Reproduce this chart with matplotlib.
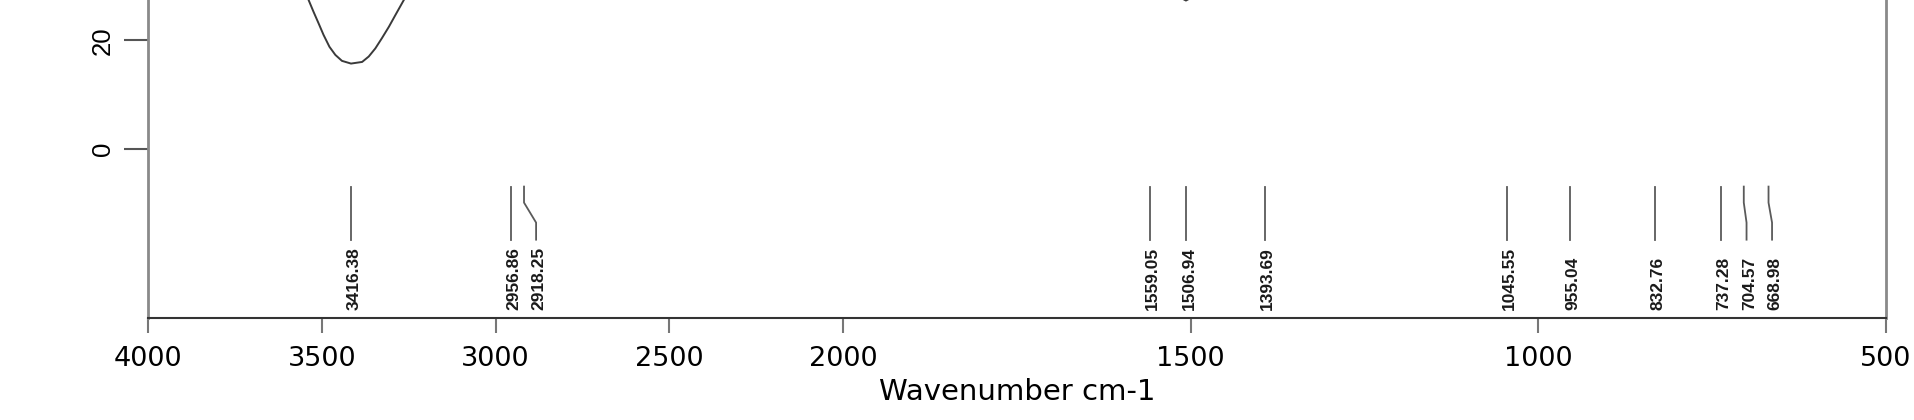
import numpy as np
import matplotlib.pyplot as plt
from matplotlib.transforms import offset_copy

# spectrum, only the part that shows inside the crop (the rest lies above it)
wavenumber = [3550, 3538, 3524, 3509, 3495, 3478, 3461, 3442, 3416, 3384, 3365,
              3346, 3327, 3307, 3288, 3264, 3250,
              1530, 1515, 1507, 1499, 1485]
transmittance = [29.5, 27.45, 25.3, 23.1, 21.0, 18.8, 17.3, 16.2, 15.7, 16.0, 17.0,
                 18.5, 20.4, 22.5, 24.7, 27.45, 29.5,
                 28.6, 27.9, 27.35, 27.9, 28.6]

# picked peaks
peaks = [3416.38, 2956.86, 2918.25, 1559.05, 1506.94, 1393.69,
         1045.55, 955.04, 832.76, 737.28, 704.57, 668.98]

xticks = [4000, 3500, 3000, 2500, 2000, 1500, 1000, 500]
yticks = [0, 20]


# axis is compressed by 2 above 2000 cm-1
def forward(x):
    x = np.asarray(x, dtype=float)
    return np.where(x > 2000, 2000 + (x - 2000) / 2, x)


def inverse(u):
    u = np.asarray(u, dtype=float)
    return np.where(u > 2000, 2000 + (u - 2000) * 2, u)


fig = plt.figure(figsize=(19.14, 4.2), dpi=100)
ax = fig.add_axes([148 / 1914, 102 / 420, 1738 / 1914, 318 / 420])
ax.set_xscale('function', functions=(forward, inverse))
ax.set_xlim(4000, 500)
ax.set_ylim(-31.33, 27.45)

ax.plot(wavenumber, transmittance, color='#3a3a3a', lw=1.4)

# peak markers, labels pushed right when they would overlap
px = ax.transData.transform(np.column_stack([peaks, np.zeros(len(peaks))]))[:, 0]
lab_px = []
for p in px:
    if lab_px and p < lab_px[-1] + 25.5:
        lab_px.append(lab_px[-1] + 25.5)
    else:
        lab_px.append(p)
lab_x = ax.transData.inverted().transform(np.column_stack([lab_px, np.zeros(len(lab_px))]))[:, 0]

txt_tr = offset_copy(ax.transData, fig=fig, x=3, y=0, units='dots')
for p, lx in zip(peaks, lab_x):
    ax.plot([p, p, lx, lx], [-7.04, -10.0, -13.7, -16.85], color='#5a5a5a', lw=1.3)
    ax.text(lx, -29.8, f'{p:.2f}', rotation=90, ha='center', va='bottom',
            fontsize=12.5, family='Liberation Sans', fontweight='bold',
            color='#1a1a1a', transform=txt_tr)

ax.set_xticks(xticks)
ax.set_xticklabels([str(t) for t in xticks])
ax.set_yticks(yticks)
ax.set_yticklabels([str(t) for t in yticks])

ax.spines['top'].set_visible(False)
ax.spines['left'].set_color('#8a8a8a')
ax.spines['left'].set_linewidth(2)
ax.spines['right'].set_color('#8a8a8a')
ax.spines['right'].set_linewidth(2)
ax.spines['bottom'].set_color('#333333')
ax.spines['bottom'].set_linewidth(1.5)

ax.tick_params(axis='x', length=11, width=1.5, color='#777777', pad=9,
               labelsize=19.5, labelcolor='black')
ax.tick_params(axis='y', length=17, width=1.5, color='#555555', pad=7,
               labelsize=18.5, labelrotation=90, labelcolor='black',
               labelfontfamily='Liberation Sans')
for lbl in ax.get_yticklabels():
    lbl.set_va('center')

ax.set_xlabel('Wavenumber cm-1', fontsize=21, labelpad=4.5, color='black')

fig.savefig('out.png', dpi=100)
